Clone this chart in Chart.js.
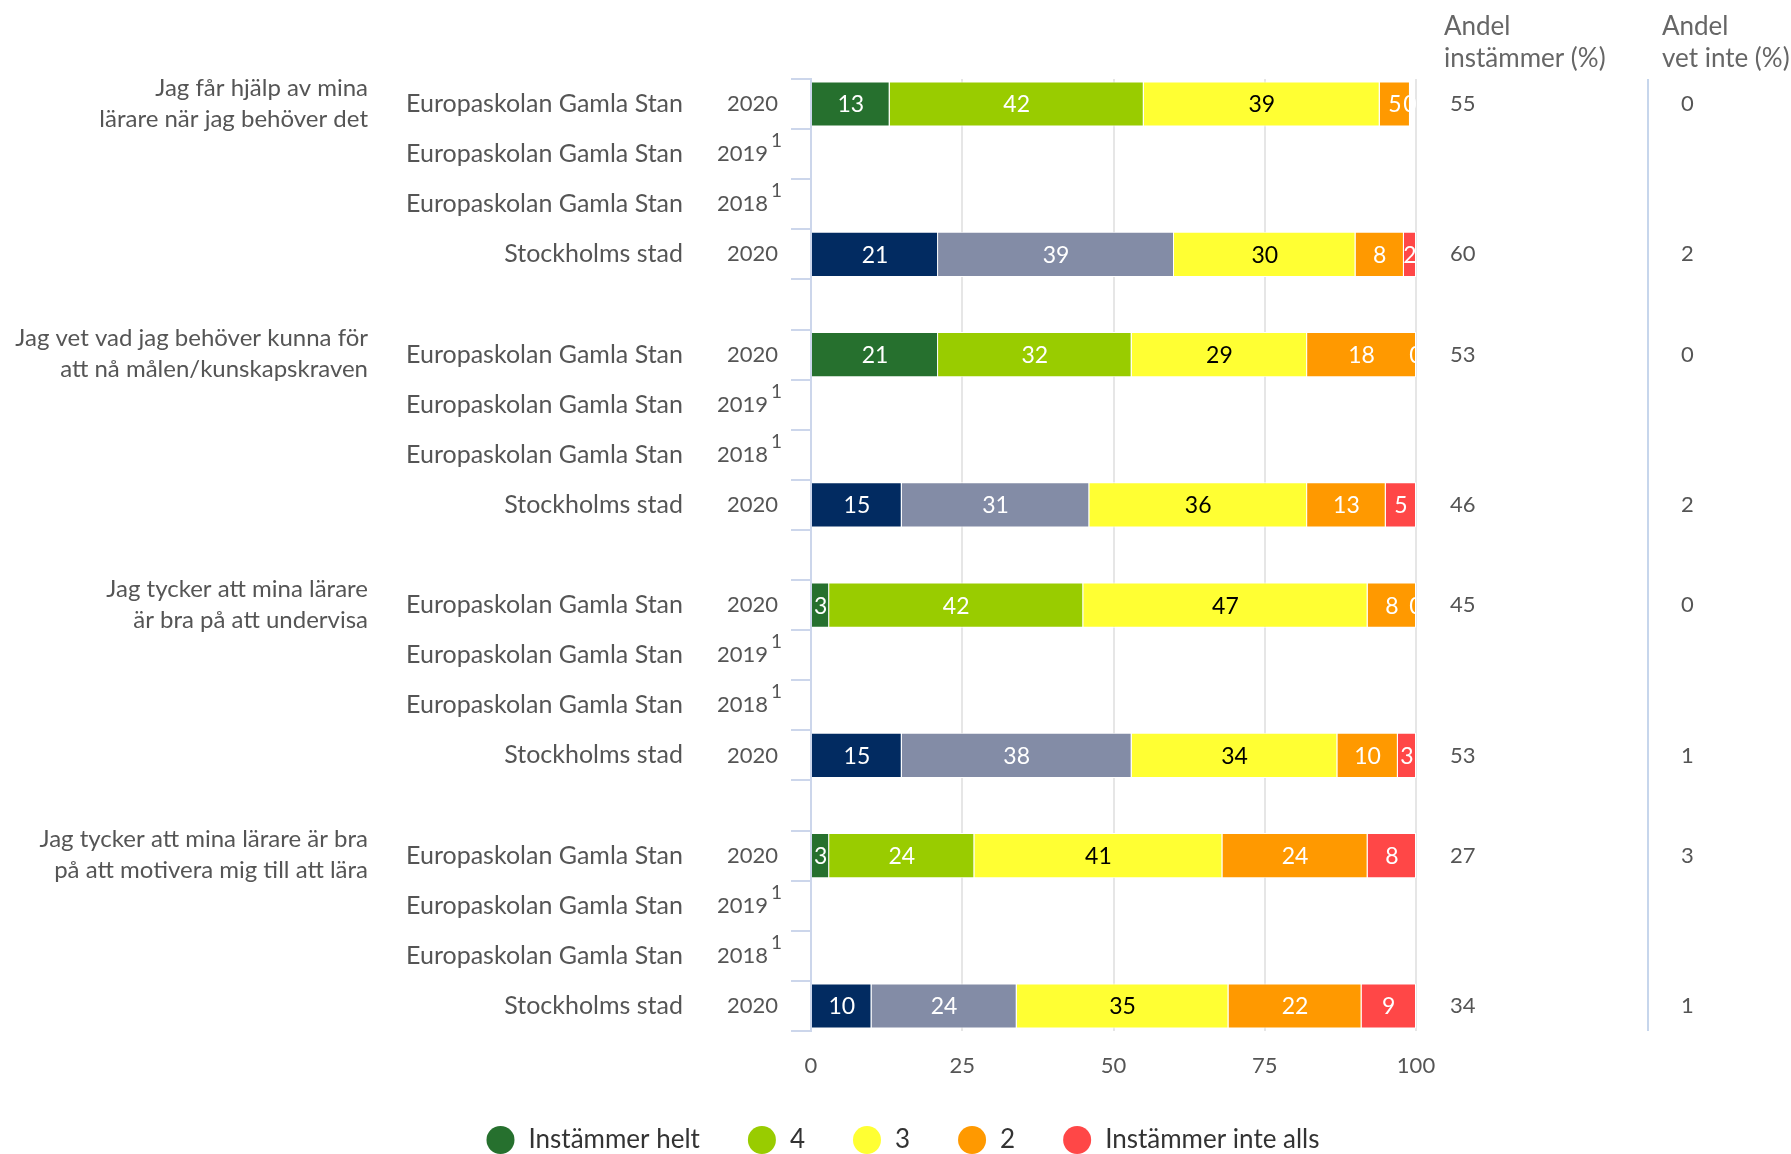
<!DOCTYPE html>
<html lang="sv">
<head>
<meta charset="utf-8">
<title>Elevenkät</title>
<script src="https://cdn.jsdelivr.net/npm/chart.js@4.4.1/dist/chart.umd.min.js"></script>
<style>
html,body{margin:0;padding:0;background:#fff;}
#wrap{position:relative;width:1791px;height:1154px;}
</style>
</head>
<body>
<div id="wrap"><canvas id="chart" width="1791" height="1154"></canvas></div>
<script>
const FONT="Lato, 'Open Sans', sans-serif";

// frågor, en per grupp (två rader text)
const fragor=[
  ["Jag får hjälp av mina","lärare när jag behöver det"],
  ["Jag vet vad jag behöver kunna för","att nå målen/kunskapskraven"],
  ["Jag tycker att mina lärare","är bra på att undervisa"],
  ["Jag tycker att mina lärare är bra","på att motivera mig till att lära"]
];
const EGS="Europaskolan Gamla Stan", STHLM="Stockholms stad";
const namn=[EGS,EGS,EGS,STHLM,"",EGS,EGS,EGS,STHLM,"",EGS,EGS,EGS,STHLM,"",EGS,EGS,EGS,STHLM];
const ar=["2020","2019","2018","2020","","2020","2019","2018","2020","","2020","2019","2018","2020","","2020","2019","2018","2020"];
const fotnot=[0,1,1,0,0,0,1,1,0,0,0,1,1,0,0,0,1,1,0];

const serieNamn=["Instämmer helt","4","3","2","Instämmer inte alls"];
const helt=[13,null,null,21,null,21,null,null,15,null,3,null,null,15,null,3,null,null,10];
const fyra=[42,null,null,39,null,32,null,null,31,null,42,null,null,38,null,24,null,null,24];
const tre=[39,null,null,30,null,29,null,null,36,null,47,null,null,34,null,41,null,null,35];
const tva=[5,null,null,8,null,18,null,null,13,null,8,null,null,10,null,24,null,null,22];
const inteAlls=[0,null,null,2,null,0,null,null,5,null,0,null,null,3,null,8,null,null,9];
const andelInstammer=[55,null,null,60,null,53,null,null,46,null,45,null,null,53,null,27,null,null,34];
const andelVetInte=[0,null,null,2,null,0,null,null,2,null,0,null,null,1,null,3,null,null,1];
const xTicks=[0,25,50,75,100];

const farger=["#26702e","#99cc00","#ffff33","#ff9900","#ff4747"];
const fargerStad=["#022b61","#838ca6","#ffff33","#ff9900","#ff4747"];
const textFarg=["#fff","#fff","#000","#fff","#fff"];
const serier=[helt,fyra,tre,tva,inteAlls];

const GRA="#555";

const etiketter={
  id:"etiketter",
  afterDatasetsDraw(chart){
    const {ctx,chartArea:a}=chart;
    ctx.save();
    ctx.beginPath(); ctx.rect(a.left,a.top,a.right-a.left,a.bottom-a.top); ctx.clip();
    ctx.font="23px "+FONT; ctx.textAlign="center"; ctx.textBaseline="middle";
    chart.data.datasets.forEach((ds,k)=>{
      chart.getDatasetMeta(k).data.forEach((bar,i)=>{
        const v=ds.data[i]; if(v==null) return;
        ctx.fillStyle=textFarg[k];
        ctx.fillText(v,(bar.base+bar.x)/2,bar.y+1);
      });
    });
    ctx.restore();
  },
  afterDraw(chart){
    const {ctx,chartArea:a}=chart;
    const y=chart.scales.y;
    ctx.save();
    ctx.textBaseline="middle";

    // radetiketter: enhet + år (+ fotnot)
    namn.forEach((n,i)=>{
      if(!n) return;
      const py=y.getPixelForValue(i);
      ctx.fillStyle=GRA; ctx.textAlign="right";
      ctx.font="25px "+FONT;
      ctx.fillText(n,683,py);
      ctx.font="22px "+FONT;
      if(fotnot[i]){
        ctx.fillText(ar[i],768,py);
        ctx.font="19px "+FONT; ctx.textAlign="left";
        ctx.fillText("1",771,py-13);
      } else ctx.fillText(ar[i],778,py);
    });

    // frågorna
    ctx.font="24px "+FONT; ctx.textAlign="right"; ctx.fillStyle=GRA;
    fragor.forEach((f,g)=>{
      const py=y.getPixelForValue(g*5);
      ctx.fillText(f[0],368,py-16);
      ctx.fillText(f[1],368,py+15);
    });

    // andelskolumner
    ctx.font="22px "+FONT; ctx.textAlign="left";
    andelInstammer.forEach((v,i)=>{ if(v!=null) ctx.fillText(v,1450,y.getPixelForValue(i)); });
    andelVetInte.forEach((v,i)=>{ if(v!=null) ctx.fillText(v,1681,y.getPixelForValue(i)); });
    ctx.font="26px "+FONT; ctx.fillStyle="#666";
    ctx.fillText("Andel",1444,27); ctx.fillText("instämmer (%)",1444,59);
    ctx.fillText("Andel",1662,27); ctx.fillText("vet inte (%)",1662,59);

    ctx.strokeStyle="#c7d6ec"; ctx.lineWidth=2;
    ctx.beginPath(); ctx.moveTo(1648,a.top); ctx.lineTo(1648,a.bottom); ctx.stroke();

    // förklaring
    ctx.font="26px "+FONT;
    const r=14, luft=14, mellan=48;
    const bredd=serieNamn.reduce((s,t)=>s+2*r+luft+ctx.measureText(t).width,0)+mellan*(serieNamn.length-1);
    let x=903-bredd/2; const ly=1140;
    serieNamn.forEach((t,k)=>{
      ctx.fillStyle=farger[k];
      ctx.beginPath(); ctx.arc(x+r,ly,r,0,Math.PI*2); ctx.fill();
      x+=2*r+luft;
      ctx.fillStyle="#333"; ctx.fillText(t,x,ly);
      x+=ctx.measureText(t).width+mellan;
    });
    ctx.restore();
  }
};

const datasets=serier.map((d,k)=>({
  label:serieNamn[k],
  data:d,
  backgroundColor:c=>namn[c.dataIndex]===STHLM?fargerStad[k]:farger[k],
  borderColor:"#fff",
  borderWidth:1,
  barPercentage:0.9,
  categoryPercentage:1
}));

new Chart(document.getElementById("chart"),{
  type:"bar",
  data:{labels:namn.map((n,i)=>n+" "+ar[i]),datasets},
  options:{
    indexAxis:"y",
    responsive:false,
    animation:false,
    layout:{padding:{top:79,right:375,left:0,bottom:0}},
    plugins:{legend:{display:false},tooltip:{enabled:false}},
    scales:{
      x:{
        stacked:true,min:0,max:100,
        afterBuildTicks:s=>{ s.ticks=xTicks.map(v=>({value:v})); },
        afterFit:s=>{ s.height=123; },
        ticks:{font:{family:FONT,size:22},color:GRA,padding:22},
        grid:{color:"#e6e6e6",lineWidth:2,drawTicks:false},
        border:{display:false}
      },
      y:{
        stacked:true,
        afterFit:s=>{ s.width=811; },
        ticks:{display:false},
        grid:{offset:true,drawOnChartArea:false,drawTicks:true,tickLength:20,color:"#ccd6eb",lineWidth:2},
        border:{color:"#ccd6eb",width:2}
      }
    }
  },
  plugins:[etiketter]
});
</script>
</body>
</html>
